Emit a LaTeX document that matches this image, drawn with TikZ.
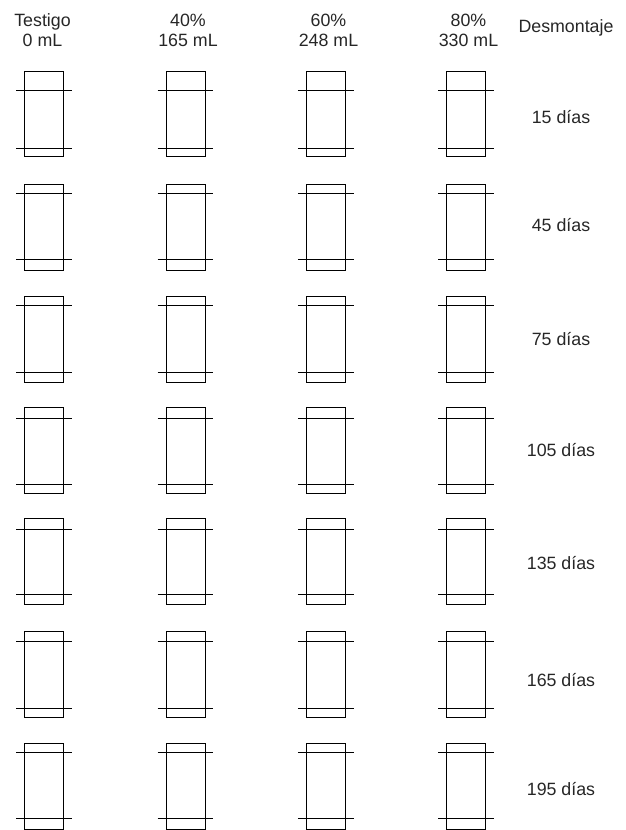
\documentclass[tikz,border=0pt]{standalone}
\usepackage{fontspec}
\setmainfont{Liberation Sans}
\begin{document}
\begin{tikzpicture}[x=1pt,y=-1pt,
  pot/.style={draw, line width=1pt, minimum width=39pt, inner sep=0pt, outer sep=0pt},
  rim/.style={line width=1pt},
  lbl/.style={font=\fontsize{17.8}{21}\selectfont, anchor=base, inner sep=0pt, text=black!85}]
\useasboundingbox (0,0) rectangle (626,830);
% headers
\node[lbl] (h1a) at (42.5,26) {Testigo};
\node[lbl] (h1b) at (42.5,46.5) {0 mL};
\node[lbl] (h2a) at (188,26) {40\%};
\node[lbl] (h2b) at (188,46.5) {165 mL};
\node[lbl] (h3a) at (328.5,26) {60\%};
\node[lbl] (h3b) at (328.5,46.5) {248 mL};
\node[lbl] (h4a) at (468.5,26) {80\%};
\node[lbl] (h4b) at (468.5,46.5) {330 mL};
\node[lbl] (hd) at (566,32.5) {Desmontaje};
% pots: row index / top / line1 / line2 / bottom / label y / label
\foreach \r/\t/\la/\lb/\b/\ly/\txt in {
  1/71/90.7/148.7/156.7/123.5/15 días,
  2/184.3/193.3/259.3/270/231.5/45 días,
  3/296.3/305.3/372/382.7/345.5/75 días,
  4/407.7/418/484/493.3/456.5/105 días,
  5/518.7/529.3/594.7/604.7/569.5/135 días,
  6/631.3/641.3/708/717.3/686.5/165 días,
  7/743.3/752.7/818.7/829.3/795.5/195 días}{
  \foreach \c/\x in {1/43.8,2/185.5,3/325.7,4/465.8}{
    \node[pot, minimum height={\b-\t}, anchor=north] (p\r\c) at (\x,\t) {};
    \draw[rim] (\x-27.8,\la) -- (\x+27.8,\la);
    \draw[rim] (\x-27.8,\lb) -- (\x+27.8,\lb);
  }
  \node[lbl] (d\r) at (561,\ly) {\txt};
}
\end{tikzpicture}
\end{document}
